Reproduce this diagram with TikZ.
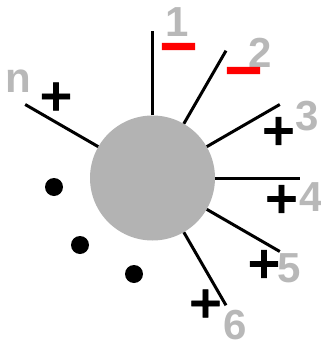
\documentclass[tikz,border=0pt]{standalone}
\usepackage{fontspec}
\setmainfont{Liberation Sans}
\newfontfamily\signfont[FakeBold=1.5]{DejaVu Sans Bold}
\newfontfamily\minusfont[FakeBold=3]{DejaVu Sans Bold}
\newfontfamily\numfont{Liberation Sans Bold}
\definecolor{lblgray}{HTML}{B8B8B8}
\definecolor{ballgray}{HTML}{B3B3B3}
\begin{document}
\begin{tikzpicture}[x=1pt,y=-1pt,
  ray/.style={line width=3pt,black},
  num/.style={text=lblgray,font=\numfont\fontsize{42}{42}\selectfont,inner sep=0pt},
  plus/.style={text=black,font=\signfont\fontsize{44}{44}\selectfont,inner sep=0pt},
  minus/.style={text=red,font=\minusfont\fontsize{51}{51}\selectfont,inner sep=0pt},
  dot/.style={circle,fill=black,minimum size=18pt,inner sep=0pt}]
\useasboundingbox (0,0) rectangle (321,341);
\node[circle,fill=ballgray,minimum size=125pt,inner sep=0pt] (C) at (152.5,178) {};
\coordinate (e1) at (152.5,31);
\coordinate (e2) at (226,50.7);
\coordinate (e3) at (279.8,104.5);
\coordinate (e4) at (299.5,178);
\coordinate (e5) at (279.8,251.5);
\coordinate (e6) at (226,305.3);
\coordinate (en) at (25.2,104.5);
\draw[ray] (C.90) -- (e1);
\draw[ray] (C.60) -- (e2);
\draw[ray] (C.30) -- (e3);
\draw[ray] (C.0) -- (e4);
\draw[ray] (C.-30) -- (e5);
\draw[ray] (C.-60) -- (e6);
\draw[ray] (C.150) -- (en);
\node[num] (l1) at (177.5,22) {1};
\node[num] (l2) at (260.5,52.5) {2};
\node[num] (l3) at (307.5,116) {3};
\node[num] (l4) at (311,197.5) {4};
\node[num] (l5) at (289.5,268.5) {5};
\node[num] (l6) at (235,325) {6};
\node[num] (ln) at (18,81) {n};
\node[minus] (m1) at (178.5,53) {−};
\node[minus] (m2) at (243.5,77) {−};
\node[plus] (p3) at (278.5,131) {+};
\node[plus] (p4) at (281.5,199) {+};
\node[plus] (p5) at (264,264) {+};
\node[plus] (p6) at (205.5,303.5) {+};
\node[plus] (pn) at (56,96.5) {+};
\node[dot] (d1) at (54,187) {};
\node[dot] (d2) at (80,245) {};
\node[dot] (d3) at (134,274) {};
\end{tikzpicture}
\end{document}
